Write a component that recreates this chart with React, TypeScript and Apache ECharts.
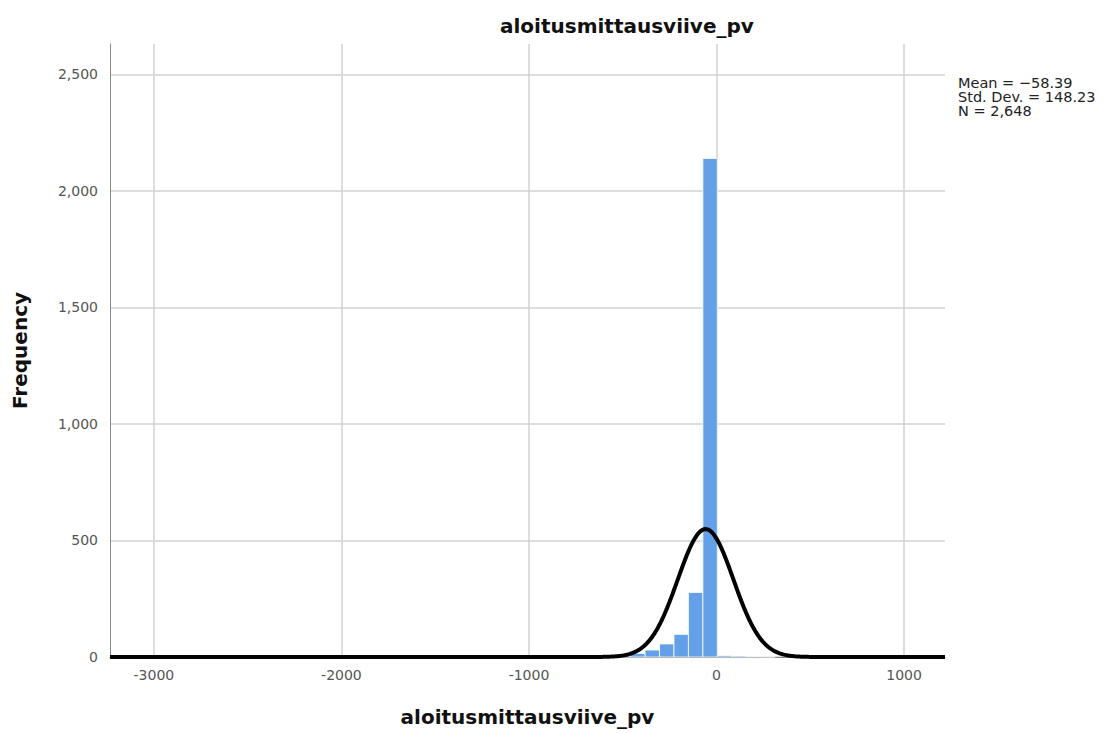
import React, { useEffect, useRef } from "react";
import * as echarts from "echarts";

// Histogram bins: lower edge of each bin (width binWidth) and its frequency
const binWidth = 77;
const binStarts = [-3230, -1228, -766, -689, -612, -535, -458, -381, -304, -227, -150, -73, 4, 81, 158, 235, 1082];
const binCounts = [1, 1, 2, 3, 5, 8, 15, 30, 56, 97, 277, 2139, 6, 4, 2, 1, 1];

// Summary statistics shown beside the plot
const mean = -58.39;
const stdDev = 148.23;
const n = 2648;

// Axis settings
const xMin = -3234;
const xMax = 1218;
const xTicks = [-3000, -2000, -1000, 0, 1000];
const yMax = 2630;
const yTicks = [0, 500, 1000, 1500, 2000, 2500];

const FONT = "DejaVu Sans";

function normalCurve(): number[][] {
  const pts: number[][] = [];
  const scale = (n * binWidth) / (stdDev * Math.sqrt(2 * Math.PI));
  for (let x = xMin; x <= xMax; x += 6) {
    const z = (x - mean) / stdDev;
    pts.push([x, scale * Math.exp(-0.5 * z * z)]);
  }
  return pts;
}

export default function App() {
  const ref = useRef<HTMLDivElement>(null);

  useEffect(() => {
    if (!ref.current) return;
    const chart = echarts.init(ref.current, null, { renderer: "svg" });
    const bins = binStarts.map((s, i) => [s, s + binWidth, binCounts[i]]);

    chart.setOption({
      animation: false,
      backgroundColor: "#ffffff",
      textStyle: { fontFamily: FONT },
      grid: { left: 110, right: 169, top: 44, bottom: 76 },
      graphic: [
        {
          type: "text",
          left: 500,
          top: 16,
          style: { text: "aloitusmittausviive_pv", font: `bold 20px "${FONT}"`, fill: "#111" },
        },
        {
          type: "text",
          left: 958,
          top: 75,
          style: {
            text: `Mean = −${Math.abs(mean).toFixed(2)}\nStd. Dev. = ${stdDev.toFixed(2)}\nN = ${n.toLocaleString("en-US")}`,
            font: `14.5px "${FONT}"`,
            lineHeight: 14,
            fill: "#222",
          },
        },
      ],
      xAxis: {
        type: "value",
        min: xMin,
        max: xMax,
        name: "aloitusmittausviive_pv",
        nameLocation: "middle",
        nameGap: 50,
        nameTextStyle: { fontFamily: FONT, fontWeight: "bold", fontSize: 20, color: "#111" },
        axisLine: { show: true, onZero: false, lineStyle: { color: "#888", width: 1 } },
        axisTick: { show: false, customValues: xTicks },
        axisLabel: {
          customValues: xTicks,
          color: "#555",
          fontSize: 14,
          margin: 11,
          fontFamily: FONT,
          formatter: (v: number) => String(v),
        },
        splitLine: { show: true, lineStyle: { color: "#d2d2d2", width: 1.5 } },
      },
      yAxis: {
        type: "value",
        min: 0,
        max: yMax,
        name: "Frequency",
        nameLocation: "middle",
        nameGap: 80,
        nameRotate: 90,
        nameTextStyle: { fontFamily: FONT, fontWeight: "bold", fontSize: 20, color: "#111" },
        axisLine: { show: true, onZero: false, lineStyle: { color: "#888", width: 1 } },
        axisTick: { show: false, customValues: yTicks },
        axisLabel: {
          customValues: yTicks,
          color: "#555",
          fontSize: 14,
          margin: 12,
          fontFamily: FONT,
          formatter: (v: number) => v.toLocaleString("en-US"),
        },
        splitLine: { show: true, lineStyle: { color: "#d2d2d2", width: 1.5 } },
      },
      series: [
        {
          type: "custom",
          z: 2,
          data: bins,
          encode: { x: [0, 1], y: 2 },
          renderItem: (params: any, api: any) => {
            const top = api.coord([api.value(0), api.value(2)]);
            const bottom = api.coord([api.value(1), 0]);
            return {
              type: "rect",
              shape: { x: top[0], y: top[1], width: bottom[0] - top[0], height: bottom[1] - top[1] },
              style: { fill: "#64a0e8", stroke: "#ffffff", lineWidth: 0.8 },
            };
          },
        },
        {
          type: "line",
          z: 3,
          data: normalCurve(),
          showSymbol: false,
          symbol: "none",
          lineStyle: { color: "#000", width: 4 },
          clip: true,
        },
      ],
    });
    return () => chart.dispose();
  }, []);

  return <div ref={ref} style={{ position: "fixed", left: 0, top: 0, width: 1114, height: 733 }} />;
}
